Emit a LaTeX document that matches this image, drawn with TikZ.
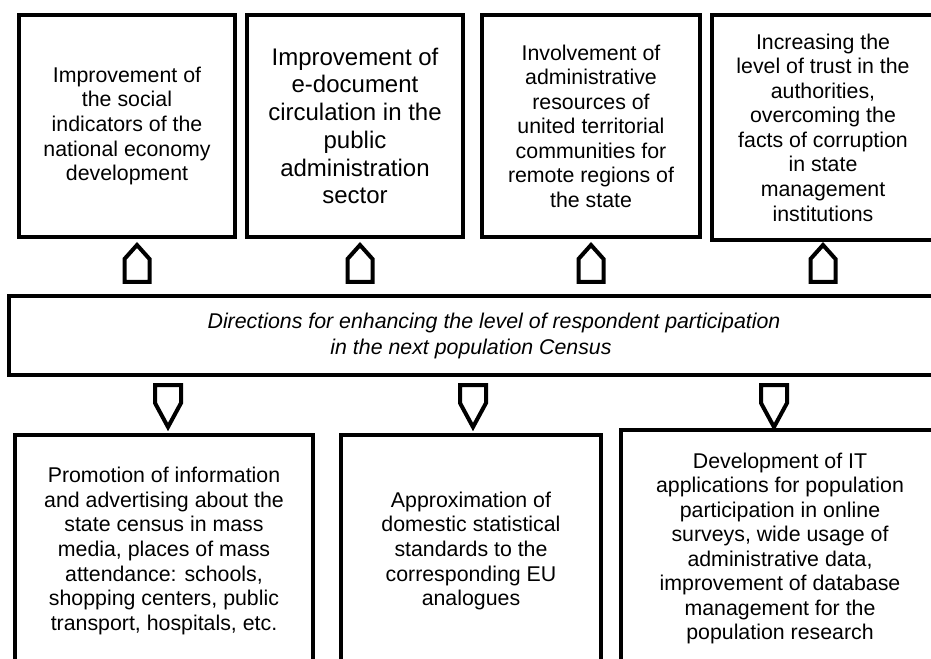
\documentclass[tikz,border=0pt]{standalone}
\usepackage{fontspec}
\setmainfont{Liberation Sans}
\usetikzlibrary{calc}

\begin{document}
\begin{tikzpicture}[
    x=0.75pt, y=-0.75pt,
    box/.style={rectangle, draw=black, line width=3pt, outer sep=0pt, inner sep=0pt, align=center, font=\fontsize{16}{18.4}\selectfont},
    goal/.style={box, minimum width=162pt, minimum height=166.5pt},
    way/.style={box, minimum height=174pt},
    blockarrow/.style={draw=black, line width=3pt, miter limit=10}
]
\useasboundingbox (0,0) rectangle (931,658);
\clip (0,0) rectangle (931,658);

% Top row
\node (goal1) [goal] at (127,126) {Improvement of\\the social\\indicators of the\\national economy\\development};
\node (goal2) [goal, font=\fontsize{18}{20.8}\selectfont] at (355,126) {Improvement of\\e-document\\circulation in the\\public\\administration\\sector};
\node (goal3) [goal, minimum width=163.5pt] at (591,126) {Involvement of\\administrative\\resources of\\united territorial\\communities for\\remote regions of\\the state};
\node (goal4) [goal, minimum width=166.5pt, minimum height=168.75pt] at (823,127.5) {Increasing the\\level of trust in the\\authorities,\\overcoming the\\facts of corruption\\in state\\management\\institutions};

% Middle
\node (core) [box, minimum width=727.5pt, minimum height=58.9pt, font=\itshape\fontsize{16}{19.3}\selectfont] at (494,335.75) {Directions for enhancing the level of respondent participation\\in the next population Census\hspace*{34.5pt}};

% Bottom row
\node (way1) [way, minimum width=223.5pt] at (164,551) {Promotion of information\\and advertising about the\\state census in mass\\media, places of mass\\attendance: schools,\\shopping centers, public\\transport, hospitals, etc.};
\node (way2) [way, minimum width=195pt] at (471,551) {Approximation of\\domestic statistical\\standards to the\\corresponding EU\\analogues};
\node (way3) [way, minimum width=238.5pt, minimum height=177.75pt] at (780,548.5) {Development of IT\\applications for population\\participation in online\\surveys, wide usage of\\administrative data,\\improvement of database\\management for the\\population research};

% Arrows up
\foreach \x in {137,360,591,823}
  \draw [blockarrow] ($(\x,0 |- core.north)+(0,-14.5)$) ++(-12.5,0) -- ++(0,-23) -- ++(12.5,-14) -- ++(12.5,14) -- ++(0,23) -- cycle;

% Arrows down
\foreach \x in {168,473,774}
  \draw [blockarrow] ($(\x,0 |- core.south)+(0,10)$) ++(-13,0) -- ++(0,18) -- ++(13,24) -- ++(13,-24) -- ++(0,-18) -- cycle;

\end{tikzpicture}
\end{document}
